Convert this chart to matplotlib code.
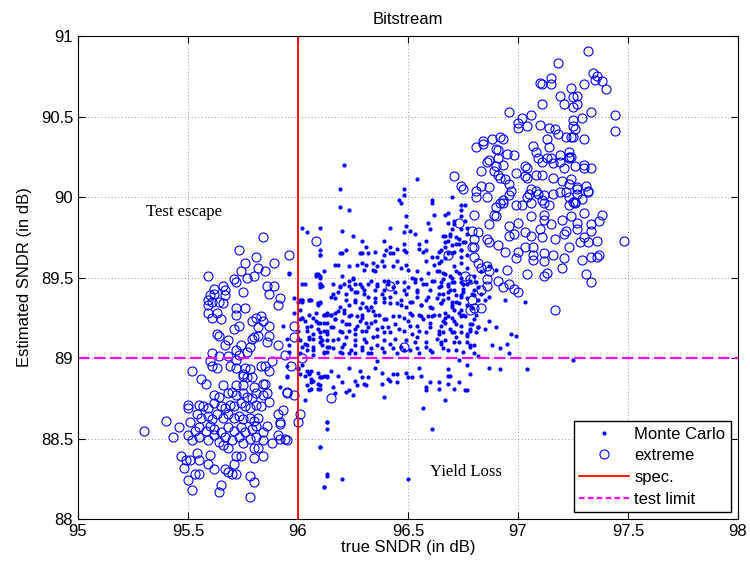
import numpy as np
import matplotlib
matplotlib.use("Agg")
import matplotlib.pyplot as plt
from matplotlib.lines import Line2D

# Monte Carlo samples (true SNDR, estimated SNDR), in dB
mc_x = [
    96.21, 96.19, 96.19, 96.23, 96.02, 96.04, 96.10, 96.20, 96.25, 96.10, 96.10, 96.22, 96.19, 96.18, 96.23,
    96.08, 96.10, 96.10, 96.10, 96.02, 95.96, 95.98, 95.98, 96.00, 96.02, 96.05, 96.09, 96.10,
    96.15, 96.16, 96.19, 96.19, 96.21, 96.23, 96.25, 96.26, 96.24, 96.27,
    96.29, 96.30, 96.32, 96.32, 96.35, 96.36, 96.38, 96.39, 96.35, 96.33,
    96.19, 96.17, 96.15, 96.13, 96.21, 96.23, 96.26, 96.28, 96.29, 96.31,
    96.29, 96.31, 96.28, 96.32, 96.27, 96.31, 96.34, 96.35, 96.36, 96.38, 96.39, 96.40, 96.42, 96.43, 96.45,
    96.45, 96.48, 96.48, 96.49, 96.50,
    96.42, 96.48, 96.51, 96.53, 96.49, 96.48, 96.48, 96.46, 96.47, 96.49,
    96.54, 96.61, 96.61, 96.62, 96.59, 96.60,
    96.55, 96.58, 96.58, 96.55, 96.58, 96.61, 96.62, 96.64, 96.65, 96.64, 96.67, 96.68, 96.69, 96.70,
    96.71, 96.74, 96.73, 96.72, 96.74, 96.74, 96.76, 96.77, 96.77, 96.76, 96.74, 96.70, 96.68, 96.67,
    96.41, 96.43, 96.45, 96.48, 96.50, 96.52, 96.53, 96.54, 96.56, 96.58, 96.60, 96.62, 96.64, 96.66,
    96.68, 96.70, 96.71, 96.74, 96.75, 96.77, 96.80, 96.81,
    96.42, 96.45, 96.47, 96.49, 96.52, 96.54, 96.56, 96.58, 96.61, 96.63, 96.65, 96.68, 96.70, 96.72,
    96.74, 96.77, 96.51, 96.55, 96.59, 96.64, 96.68, 96.73,
    96.02, 96.06, 96.09, 96.12, 96.13, 96.15, 96.17, 96.19, 96.22, 96.23, 96.26, 96.27, 96.29, 96.31,
    96.33, 96.35, 96.36, 96.38, 96.40, 96.42, 96.44, 96.46, 96.48, 96.50, 96.52, 96.54, 96.56, 96.58,
    96.60, 96.62, 96.64, 96.65, 96.67, 96.70, 96.72, 96.74, 96.77, 96.79, 96.81,
    96.03, 96.05, 96.07, 96.10, 96.12, 96.14, 96.16, 96.19, 96.21, 96.23, 96.26, 96.29, 96.31, 96.33,
    96.36, 96.39, 96.42, 96.45, 96.47, 96.51, 96.53, 96.55, 96.58, 96.61, 96.65, 96.68, 96.71, 96.75,
    96.78, 96.80,
    96.02, 96.06, 96.07, 96.10, 96.13, 96.15, 96.18, 96.20, 96.23, 96.23, 96.26, 96.28, 96.29, 96.30,
    96.32, 96.35, 96.36, 96.38, 96.39, 96.41, 96.43, 96.45, 96.49, 96.50, 96.55, 96.56, 96.58, 96.58,
    96.57, 96.61, 96.64, 96.67, 96.68, 96.68, 96.71, 96.76, 96.77, 96.78, 96.78, 96.13, 96.13, 96.10,
    96.13, 96.20, 96.12, 96.50,
    96.00, 96.03, 96.05, 96.06, 96.09, 96.16, 96.17, 96.22, 96.25, 96.27, 96.31, 96.38, 96.42, 96.45,
    96.52, 96.60, 96.64, 96.68, 96.69, 96.73,
    96.74, 96.76, 96.67, 96.74, 96.68, 96.71, 96.66, 96.69, 96.72, 96.67, 96.70, 96.73, 96.75, 96.65,
    96.68, 96.71, 96.74, 96.77, 96.64, 96.67, 96.71, 96.74, 96.77, 96.66, 96.69, 96.72, 96.74, 96.65,
    96.68, 96.71, 96.75, 96.78, 96.66, 96.69, 96.72, 96.75, 96.66, 96.70, 96.73, 96.77, 96.80, 96.82,
    96.67, 96.71, 96.75, 96.79, 96.83, 96.85, 96.87, 96.83, 96.87, 96.90, 96.94, 96.67, 96.71, 96.74,
    96.78, 96.82, 96.87, 96.90, 96.66, 96.71, 96.77, 96.81, 96.85, 96.65, 96.73, 96.80, 96.88, 96.92,
    96.95, 96.97, 96.99, 97.03, 96.96, 96.82, 96.73, 96.77, 96.87, 96.92, 97.04, 97.25,
    95.96, 96.09, 96.10, 96.12, 96.10, 96.11, 96.01, 96.02, 96.05, 96.09, 96.10,
    96.01, 96.05, 96.08, 96.12, 96.01, 96.03, 96.07, 96.10, 96.12,
    95.93, 96.00, 96.04, 96.07, 96.10, 96.13, 95.95, 95.96, 96.01, 96.04, 96.07, 96.11, 96.13,
    95.96, 96.01, 96.04, 96.07, 96.12, 95.95, 96.00, 96.04, 96.09, 96.12, 95.95, 96.05, 96.10, 96.13,
    95.95, 96.01, 96.05, 96.10, 96.11, 96.06, 96.09, 96.04, 96.06, 96.10, 95.92, 96.03, 96.13, 96.10,
    96.13, 96.12,
    96.10, 96.20, 96.29, 96.35, 96.39, 96.17, 96.29, 96.34, 96.39, 96.30, 96.08, 96.20, 96.10, 96.03,
    96.16, 96.25, 96.23, 96.28, 96.33, 96.39, 96.39, 96.36, 96.18, 96.22, 96.26, 96.30, 96.02, 96.06,
    96.09, 96.17, 96.22, 96.26, 96.29, 96.35, 96.39, 96.13, 96.15, 96.18, 96.21, 96.24, 96.27, 96.32,
    96.34, 96.37, 96.02, 96.08, 96.13, 96.17, 96.20, 96.23, 96.28, 96.31, 96.35, 96.39, 96.04, 96.09,
    96.12, 96.16, 96.20, 96.23, 96.26, 96.29, 96.32, 96.36, 96.39, 96.00, 96.05, 96.10, 96.13, 96.18,
    96.22, 96.26, 96.30, 96.34, 96.39, 96.02, 96.07, 96.11, 96.16, 96.20, 96.24, 96.29, 96.33, 96.38,
    96.13, 96.20, 96.26, 96.32,
    96.42, 96.49, 96.57, 96.63, 96.70, 96.43, 96.47, 96.54, 96.59, 96.63, 96.67, 96.73, 96.80, 96.41,
    96.48, 96.53, 96.57, 96.61, 96.65, 96.70, 96.75, 96.82, 96.44, 96.49, 96.54, 96.59, 96.64, 96.68,
    96.74, 96.79, 96.42, 96.47, 96.51, 96.56, 96.60, 96.65, 96.70, 96.74, 96.43, 96.48, 96.52, 96.57,
    96.61, 96.66, 96.70, 96.76, 96.80, 96.41, 96.46, 96.51, 96.55, 96.60, 96.64, 96.69, 96.74, 96.78,
    96.82, 96.44, 96.49, 96.54, 96.58, 96.63, 96.67, 96.72, 96.77, 96.43, 96.48, 96.54, 96.60, 96.66,
    96.72, 96.78,
]
mc_y = [
    90.20, 90.05, 89.94, 89.92, 89.81, 89.78, 89.81, 89.79, 89.76, 89.67, 89.64, 89.67, 89.65, 89.58, 89.57,
    89.51, 89.50, 89.46, 89.44, 89.46, 89.53, 89.37, 89.28, 89.35, 89.36, 89.36, 89.33, 89.34,
    89.38, 89.40, 89.44, 89.45, 89.46, 89.48, 89.49, 89.46, 89.43, 89.41,
    89.44, 89.40, 89.46, 89.38, 89.42, 89.46, 89.40, 89.37, 89.35, 89.32,
    89.32, 89.28, 89.27, 89.27, 89.30, 89.33, 89.35, 89.31, 89.27, 89.32,
    89.73, 89.69, 89.65, 89.65, 89.58, 89.58, 89.59, 89.54, 89.57, 89.60, 89.73, 89.67, 89.69, 89.65, 89.68,
    89.60, 89.71, 89.67, 89.58, 89.55,
    89.81, 89.78, 89.79, 89.77, 89.82, 90.05, 90.01, 89.98, 89.96, 89.88,
    90.11, 89.98, 89.96, 89.89, 89.84, 89.80,
    89.68, 89.67, 89.73, 89.71, 89.60, 89.63, 89.58, 89.54, 89.60, 89.66, 89.69, 89.73, 89.77, 89.80,
    89.85, 89.80, 89.74, 89.71, 89.67, 89.63, 89.72, 89.77, 89.81, 89.85, 89.92, 90.00, 89.90, 89.76,
    89.46, 89.44, 89.47, 89.42, 89.44, 89.50, 89.47, 89.42, 89.49, 89.46, 89.42, 89.48, 89.44, 89.49,
    89.46, 89.50, 89.42, 89.47, 89.43, 89.46, 89.42, 89.47,
    89.38, 89.34, 89.36, 89.32, 89.35, 89.38, 89.33, 89.36, 89.31, 89.37, 89.34, 89.37, 89.32, 89.35,
    89.38, 89.33, 89.28, 89.27, 89.26, 89.27, 89.26, 89.28,
    89.25, 89.20, 89.22, 89.27, 89.15, 89.19, 89.24, 89.17, 89.21, 89.26, 89.15, 89.20, 89.25, 89.17,
    89.22, 89.27, 89.14, 89.19, 89.24, 89.16, 89.21, 89.26, 89.17, 89.23, 89.15, 89.20, 89.26, 89.16,
    89.22, 89.27, 89.15, 89.20, 89.25, 89.16, 89.21, 89.26, 89.15, 89.21, 89.27,
    89.09, 89.12, 89.05, 89.10, 89.03, 89.07, 89.11, 89.04, 89.09, 89.03, 89.08, 89.05, 89.10, 89.03,
    89.08, 89.04, 89.09, 89.03, 89.07, 89.05, 89.10, 89.03, 89.07, 89.04, 89.09, 89.05, 89.10, 89.04,
    89.08, 89.03,
    88.96, 88.92, 88.86, 88.83, 88.88, 88.92, 88.89, 88.85, 88.94, 88.80, 88.86, 88.92, 88.88, 88.84,
    88.88, 88.94, 88.98, 88.84, 88.76, 88.87, 88.90, 88.85, 88.91, 88.88, 88.94, 88.89, 88.80, 88.82,
    88.69, 88.56, 88.85, 88.74, 88.89, 88.93, 88.81, 88.80, 88.80, 88.90, 89.18, 88.56, 88.60, 88.45,
    88.27, 88.25, 88.20, 88.25,
    88.93, 88.89, 88.80, 88.87, 88.81, 88.82, 88.78, 88.79, 88.77, 88.83, 88.83, 88.91, 88.86, 88.90,
    88.88, 88.85, 88.81, 88.84, 88.89, 88.85,
    89.95, 89.95, 89.89, 89.88, 89.84, 89.83, 89.76, 89.76, 89.75, 89.72, 89.70, 89.71, 89.72, 89.67,
    89.65, 89.66, 89.67, 89.64, 89.59, 89.62, 89.57, 89.59, 89.56, 89.53, 89.51, 89.54, 89.50, 89.47,
    89.45, 89.47, 89.46, 89.48, 89.40, 89.42, 89.39, 89.41, 89.36, 89.35, 89.34, 89.37, 89.39, 89.36,
    89.28, 89.30, 89.27, 89.31, 89.40, 89.36, 89.38, 89.54, 89.57, 89.55, 89.36, 89.22, 89.23, 89.20,
    89.21, 89.19, 89.23, 89.19, 89.16, 89.16, 89.14, 89.16, 89.18, 89.10, 89.10, 89.08, 89.08, 89.06,
    89.09, 89.15, 89.14, 89.35, 89.03, 89.01, 88.99, 88.96, 88.94, 88.93, 88.93, 88.99,
    89.52, 89.52, 89.51, 89.54, 89.46, 89.45, 89.36, 89.35, 89.36, 89.34, 89.35,
    89.30, 89.27, 89.28, 89.27, 89.24, 89.23, 89.25, 89.22, 89.22,
    89.20, 89.17, 89.19, 89.15, 89.16, 89.17, 89.12, 89.08, 89.11, 89.08, 89.12, 89.11, 89.07,
    89.04, 89.03, 89.05, 89.02, 89.04, 88.95, 88.94, 88.92, 88.91, 88.89, 88.88, 88.90, 88.88, 88.89,
    88.89, 88.90, 88.91, 88.88, 88.88, 88.85, 88.84, 88.83, 88.81, 88.81, 88.82, 88.74, 88.60, 88.45,
    88.28, 88.20,
    89.64, 89.65, 89.65, 89.66, 89.64, 89.58, 89.59, 89.55, 89.57, 89.55, 89.52, 89.51, 89.46, 89.46,
    89.46, 89.50, 89.45, 89.46, 89.48, 89.48, 89.42, 89.45, 89.41, 89.40, 89.41, 89.42, 89.36, 89.36,
    89.34, 89.37, 89.36, 89.36, 89.34, 89.37, 89.35, 89.28, 89.27, 89.29, 89.28, 89.27, 89.26, 89.30,
    89.29, 89.27, 89.25, 89.23, 89.22, 89.24, 89.23, 89.21, 89.23, 89.22, 89.23, 89.24, 89.17, 89.18,
    89.17, 89.19, 89.16, 89.17, 89.18, 89.17, 89.19, 89.18, 89.16, 89.12, 89.13, 89.13, 89.11, 89.12,
    89.13, 89.11, 89.12, 89.13, 89.11, 89.07, 89.07, 89.08, 89.06, 89.07, 89.05, 89.07, 89.06, 89.06,
    89.04, 89.03, 89.03, 89.03,
    89.65, 89.66, 89.66, 89.63, 89.65, 89.57, 89.56, 89.54, 89.53, 89.54, 89.52, 89.53, 89.51, 89.48,
    89.47, 89.49, 89.46, 89.48, 89.45, 89.47, 89.46, 89.44, 89.41, 89.40, 89.41, 89.38, 89.40, 89.41,
    89.39, 89.40, 89.34, 89.33, 89.35, 89.33, 89.32, 89.34, 89.33, 89.30, 89.26, 89.25, 89.27, 89.24,
    89.26, 89.23, 89.25, 89.26, 89.24, 89.19, 89.18, 89.20, 89.17, 89.19, 89.17, 89.18, 89.16, 89.17,
    89.19, 89.12, 89.11, 89.13, 89.10, 89.12, 89.11, 89.13, 89.10, 89.06, 89.05, 89.06, 89.05, 89.06,
    89.05, 89.07,
]

# extreme samples
ext_x = [
    95.84, 95.73, 95.81, 95.96, 96.08, 95.76, 95.89, 95.82, 95.85, 95.74, 95.59, 95.71, 95.77, 95.80,
    95.72, 95.86, 95.89, 95.66, 95.62, 95.67, 95.75, 95.87, 95.62, 95.60, 95.67, 95.92, 95.59, 95.64,
    95.66, 95.61, 95.91, 95.59, 95.72, 95.76, 95.63, 95.59, 95.72, 95.61, 95.65, 95.83, 95.81, 95.79,
    95.84, 95.82, 95.87, 95.73, 95.71, 95.98, 95.63, 95.64, 95.68, 95.82, 95.80, 95.79, 95.87, 95.98,
    95.86, 95.67, 95.74, 95.91, 95.78, 95.77, 95.72, 95.61, 95.73, 95.68, 95.64, 95.94, 95.88, 95.60,
    95.72, 95.61, 95.63, 95.69, 95.72, 95.76, 95.78, 95.83, 95.85, 95.87, 95.97, 95.52, 96.02, 95.75,
    95.77, 95.75, 95.79, 95.56,
    95.58, 95.66, 95.72, 95.75, 95.80, 95.84, 95.85, 95.95, 95.98, 95.62, 95.64, 95.68, 95.70, 95.72,
    95.75, 95.77, 95.79, 95.81, 95.84, 95.86, 95.87, 95.50, 95.50,
    95.55, 95.57, 95.59, 95.62, 95.65, 95.67, 95.69, 95.71, 95.74, 95.76, 95.78, 95.81, 95.83,
    95.91, 95.93, 96.01, 96.00, 95.40,
    95.54, 95.56, 95.59, 95.61, 95.63, 95.66, 95.68, 95.71, 95.73, 95.75, 95.78, 95.80, 95.82,
    95.46, 95.51, 95.53, 95.55, 95.58, 95.60, 95.62, 95.65, 95.68, 95.71, 95.74, 95.76, 95.79, 95.81,
    95.84, 95.86, 95.92,
    95.30, 95.43,
    95.50, 95.52, 95.55, 95.59, 95.62, 95.64, 95.67, 95.70, 95.73, 95.75, 95.78, 95.81, 95.84, 95.88,
    95.91, 95.92, 95.95,
    95.47, 95.49, 95.51, 95.54, 95.55, 95.60, 95.59, 95.62, 95.66, 95.68, 95.72, 95.74, 95.71, 95.80,
    95.84, 95.80, 95.82,
    95.48, 95.53, 95.55, 95.67, 95.68, 95.70, 95.72, 95.78,
    95.50, 95.52, 95.65, 95.64, 95.80, 95.78,
    96.48, 95.95, 96.15, 95.92, 95.94, 96.68, 96.42, 96.80, 96.80,
    97.32, 97.18, 97.34, 97.36, 97.38, 97.35, 97.40, 97.15, 97.10, 97.11, 97.15, 97.24, 97.30,
    97.19, 97.25, 97.27, 97.11, 97.21, 97.25, 97.27, 96.96, 97.06, 97.02, 97.00, 97.00, 97.04,
    97.10, 97.14, 97.17, 97.18, 97.25, 97.29, 97.33, 97.25, 97.26, 97.25, 97.44, 97.44,
    97.22, 97.24, 97.30, 96.92, 96.93, 96.88, 96.84, 96.84, 96.81, 97.13, 97.07, 97.14,
    96.90, 96.91, 96.95, 96.98, 97.08, 97.09, 97.19, 97.23, 97.24, 97.23,
    96.86, 96.87, 96.91, 96.93, 96.90, 96.89, 96.91, 96.83, 96.71, 96.74, 96.75,
    97.03, 97.04, 97.11, 97.13, 97.15, 97.16, 97.19, 97.23, 97.21, 97.26, 97.30, 97.33, 97.30,
    96.99, 97.03, 97.04, 97.08, 97.11, 97.16, 97.20, 97.24, 97.23, 97.27, 97.31, 97.32, 97.27,
    97.25, 97.23, 97.26,
    96.92, 96.94, 96.96, 96.97, 96.96, 96.93, 96.93, 96.90, 96.92,
    96.83, 96.81, 96.81, 96.86, 96.87,
    96.99, 97.02, 97.05, 97.06, 97.08, 97.09, 97.12, 97.16, 97.19, 97.22, 97.27, 97.32,
    97.04, 97.11, 97.14, 97.23, 97.29, 97.06, 97.12, 97.26,
    96.89, 96.90, 96.80, 96.73, 96.87, 96.96, 97.00, 97.06, 97.12, 97.12, 97.15, 97.20, 97.24, 97.30,
    97.38, 97.37, 97.33, 97.27,
    96.79, 96.82, 96.86, 96.87, 96.91, 96.96, 96.98, 97.03, 97.06, 97.10, 97.11, 97.17, 97.21, 97.22,
    97.27, 97.33, 97.30, 97.36, 97.32, 97.28, 97.48,
    96.79, 96.80, 96.82, 96.83, 96.86, 96.87, 96.94, 96.99, 97.00, 97.03, 97.07, 97.07, 97.07, 97.12,
    97.12, 97.16, 97.21, 97.23, 97.29, 97.33, 97.36,
    96.76, 96.78, 96.86, 96.86, 96.91, 96.93, 96.95, 96.96, 96.98, 97.00, 97.04, 97.12, 97.13, 97.20,
    97.31, 97.33, 97.17,
    96.79, 96.80, 96.83, 96.78, 96.83, 97.37,
]
ext_y = [
    89.75, 89.67, 89.63, 89.64, 89.73, 89.59, 89.59, 89.56, 89.54, 89.54, 89.51, 89.49, 89.50, 89.51,
    89.47, 89.45, 89.45, 89.45, 89.43, 89.42, 89.41, 89.40, 89.40, 89.39, 89.39, 89.37, 89.36, 89.35,
    89.34, 89.35, 89.33, 89.33, 89.31, 89.31, 89.28, 89.28, 89.27, 89.25, 89.24, 89.26, 89.25, 89.23,
    89.23, 89.19, 89.20, 89.20, 89.18, 89.20, 89.15, 89.14, 89.11, 89.14, 89.13, 89.12, 89.14, 89.13,
    89.10, 89.08, 89.08, 89.08, 89.07, 89.04, 89.05, 89.03, 89.02, 89.01, 89.01, 89.02, 88.98, 88.98,
    88.99, 88.95, 88.94, 88.95, 88.94, 88.94, 88.93, 88.95, 88.95, 88.92, 88.95, 88.92, 89.00, 88.90,
    88.88, 88.89, 88.88, 88.87,
    88.84, 88.83, 88.83, 88.83, 88.82, 88.84, 88.84, 88.78, 88.77, 88.77, 88.76, 88.78, 88.79, 88.77,
    88.78, 88.76, 88.75, 88.78, 88.77, 88.78, 88.73, 88.71, 88.69,
    88.71, 88.70, 88.69, 88.72, 88.70, 88.69, 88.71, 88.70, 88.72, 88.70, 88.69, 88.71, 88.70,
    88.65, 88.68, 88.65, 88.60, 88.61,
    88.65, 88.63, 88.64, 88.62, 88.65, 88.63, 88.65, 88.63, 88.64, 88.62, 88.63, 88.61, 88.63,
    88.57, 88.60, 88.55, 88.57, 88.55, 88.58, 88.56, 88.54, 88.57, 88.55, 88.57, 88.54, 88.56, 88.58,
    88.54, 88.58, 88.60,
    88.55, 88.51,
    88.52, 88.49, 88.51, 88.49, 88.52, 88.48, 88.51, 88.49, 88.51, 88.47, 88.50, 88.51, 88.49, 88.47,
    88.52, 88.50, 88.49,
    88.39, 88.37, 88.37, 88.41, 88.37, 88.40, 88.34, 88.31, 88.46, 88.44, 88.39, 88.39, 88.34, 88.38,
    88.39, 88.44, 88.44,
    88.32, 88.28, 88.28, 88.31, 88.29, 88.28, 88.28, 88.27,
    88.24, 88.18, 88.21, 88.17, 88.23, 88.14,
    89.07, 88.79, 88.75, 88.59, 88.50, 89.64, 89.45, 89.74, 89.69,
    90.91, 90.83, 90.77, 90.75, 90.72, 90.73, 90.67, 90.74, 90.71, 90.70, 90.70, 90.68, 90.70,
    90.63, 90.62, 90.63, 90.58, 90.58, 90.56, 90.58, 90.53, 90.51, 90.49, 90.46, 90.43, 90.44,
    90.45, 90.43, 90.42, 90.39, 90.48, 90.49, 90.53, 90.44, 90.42, 90.37, 90.51, 90.41,
    90.37, 90.37, 90.36, 90.37, 90.36, 90.36, 90.35, 90.33, 90.31, 90.36, 90.32, 90.31,
    90.30, 90.29, 90.27, 90.26, 90.28, 90.24, 90.26, 90.28, 90.25, 90.24,
    90.22, 90.23, 90.24, 90.20, 90.19, 90.16, 90.14, 90.16, 90.13, 90.07, 90.05,
    90.19, 90.18, 90.22, 90.24, 90.24, 90.21, 90.22, 90.25, 90.18, 90.19, 90.20, 90.18, 90.18,
    90.15, 90.13, 90.12, 90.14, 90.14, 90.12, 90.10, 90.11, 90.08, 90.06, 90.07, 90.03, 90.02,
    89.97, 89.95, 89.96,
    90.12, 90.11, 90.08, 90.04, 90.01, 89.98, 89.96, 89.94, 89.96,
    90.07, 90.04, 90.00, 90.00, 90.06,
    89.95, 89.95, 90.02, 90.05, 90.04, 90.02, 90.01, 90.02, 90.03, 90.03, 90.05, 90.04,
    90.00, 89.98, 89.95, 90.00, 89.99, 89.96, 89.96, 89.97,
    89.89, 89.88, 89.89, 89.84, 89.83, 89.82, 89.84, 89.88, 89.89, 89.86, 89.83, 89.86, 89.88, 89.90,
    89.89, 89.85, 89.83, 89.84,
    89.79, 89.78, 89.74, 89.72, 89.70, 89.76, 89.77, 89.78, 89.76, 89.80, 89.75, 89.74, 89.77, 89.79,
    89.80, 89.79, 89.75, 89.73, 89.72, 89.72, 89.73,
    89.69, 89.63, 89.59, 89.56, 89.57, 89.54, 89.66, 89.62, 89.66, 89.69, 89.69, 89.64, 89.61, 89.65,
    89.60, 89.64, 89.62, 89.69, 89.61, 89.63, 89.63,
    89.51, 89.49, 89.45, 89.49, 89.48, 89.44, 89.55, 89.46, 89.43, 89.41, 89.52, 89.51, 89.53, 89.56,
    89.52, 89.47, 89.30,
    89.36, 89.31, 89.31, 89.30, 89.42, 89.64,
]

spec = 96.0        # SNDR specification
test_limit = 89.0  # test threshold on the estimate

x_ticks = [95, 95.5, 96, 96.5, 97, 97.5, 98]
y_ticks = [88, 88.5, 89, 89.5, 90, 90.5, 91]

plt.rcParams['font.family'] = ['Liberation Sans', 'DejaVu Sans']

fig = plt.figure(figsize=(7.5, 5.63), dpi=100)
ax = fig.add_axes([0.104, 0.078, 0.88, 0.858])

ax.plot(mc_x, mc_y, '.', color='b', markersize=4, label='Monte Carlo')
ax.plot(ext_x, ext_y, 'o', mfc='none', mec='b', markersize=6.5, mew=0.8, label='extreme')
ax.axvline(spec, color='r', lw=1.3, label='spec.')
ax.axhline(test_limit, color='#ff00ff', lw=1.6, ls=(0, (5, 2.2)), label='test limit')

ax.set_xlim(95, 98)
ax.set_ylim(88, 91)
ax.set_xticks(x_ticks)
ax.set_yticks(y_ticks)
ax.set_xticklabels(['95', '95.5', '96', '96.5', '97', '97.5', '98'])
ax.set_yticklabels(['88', '88.5', '89', '89.5', '90', '90.5', '91'])
ax.tick_params(direction='in', top=True, right=True, labelsize=12, length=5)
ax.grid(True, color='0.45', ls=(0, (1, 3)), lw=0.6)

ax.set_xlabel('true SNDR (in dB)', fontsize=12, labelpad=1)
ax.set_ylabel('Estimated SNDR (in dB)', fontsize=12, labelpad=6)
ax.set_title('Bitstream', fontsize=12, pad=9)

ax.text(95.31, 89.88, 'Test escape', family='Liberation Serif', fontsize=12)
ax.text(96.6, 88.27, 'Yield Loss', family='Liberation Serif', fontsize=12)

handles = [
    Line2D([], [], ls='none', marker='.', color='b', markersize=4),
    Line2D([], [], ls='none', marker='o', mfc='none', mec='b', markersize=6.5, mew=0.8),
    Line2D([], [], color='r', lw=1.3),
    Line2D([], [], color='#ff00ff', lw=1.6, ls=(0, (2.5, 1.5))),
]
leg = ax.legend(handles, ['Monte Carlo', 'extreme', 'spec.', 'test limit'], loc='lower right',
                fontsize=12, fancybox=False, edgecolor='k', framealpha=1, borderaxespad=0.4,
                handlelength=3.0, labelspacing=0.4, borderpad=0.35, handletextpad=0.3)
leg.get_frame().set_linewidth(1.0)

fig.savefig('out.png', dpi=100)
